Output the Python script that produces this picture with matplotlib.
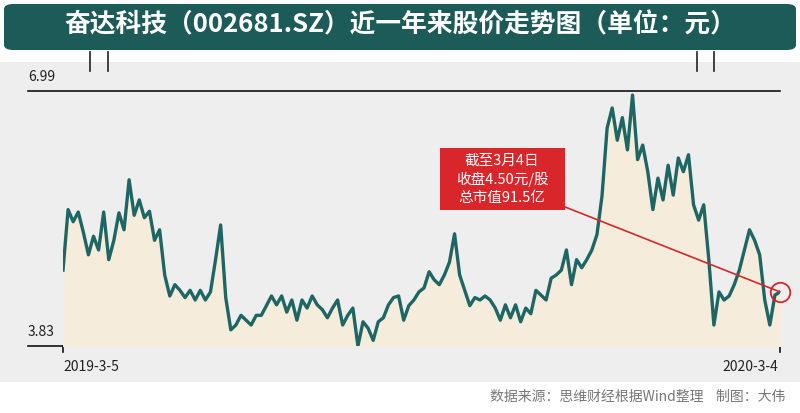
import matplotlib
matplotlib.use("Agg")
import matplotlib.pyplot as plt
from matplotlib.patches import FancyBboxPatch, Rectangle
import numpy as np

plt.rcParams['font.family'] = ['Noto Sans CJK SC', 'DejaVu Sans']

prices = [4.77,5.52,5.37,5.49,5.24,4.96,5.19,5.02,5.49,4.90,5.14,5.48,5.27,5.89,5.45,5.64,5.42,5.50,5.14,5.27,
          4.71,4.45,4.59,4.52,4.43,4.52,4.40,4.52,4.40,4.50,4.90,5.33,4.43,4.03,4.09,4.21,4.15,4.09,4.21,4.21,
          4.33,4.45,4.34,4.45,4.25,4.40,4.15,4.40,4.30,4.45,4.34,4.28,4.18,4.30,4.40,4.09,4.21,4.30,3.83,4.13,
          4.05,3.90,4.13,4.18,4.34,4.43,4.45,4.15,4.33,4.40,4.50,4.55,4.75,4.65,4.59,4.71,4.87,5.22,4.71,4.52,
          4.33,4.43,4.40,4.45,4.40,4.30,4.15,4.34,4.18,4.34,4.13,4.30,4.23,4.52,4.46,4.40,4.67,4.71,4.77,5.02,
          4.59,4.90,4.80,4.90,5.02,5.21,5.69,6.53,6.78,6.38,6.66,6.26,6.94,6.14,6.32,5.99,5.52,5.91,5.64,6.07,
          5.70,6.16,5.99,6.20,5.58,5.39,5.58,4.90,4.09,4.50,4.40,4.45,4.59,4.77,5.02,5.27,5.14,4.96,4.40,4.09,
          4.46,4.50]
y_ticks = [3.83, 6.99]
start_label, end_label = "2019-3-5", "2020-3-4"
title = "奋达科技（002681.SZ）近一年来股价走势图（单位：元）"
note = "截至3月4日\n收盘4.50元/股\n总市值91.5亿"
source = "数据来源：思维财经根据Wind整理    制图：大伟"

W, H = 800, 413
fig = plt.figure(figsize=(8, 4.13), dpi=100)
fig.patch.set_facecolor('white')

def fx(x): return x / W
def fy(y): return 1 - y / H

fig.patches.append(Rectangle((0, fy(382)), 1, fy(62) - fy(382), transform=fig.transFigure,
                             facecolor='#eeeeee', edgecolor='none', zorder=-5))
fig.patches.append(FancyBboxPatch((fx(4), fy(50)), fx(792), fy(4) - fy(50), transform=fig.transFigure,
                                  boxstyle="round,pad=0,rounding_size=0.012", facecolor='#1d5b58',
                                  edgecolor='none', zorder=1))
fig.text(0.5, fy(25), title, color='white', fontsize=18.5, fontweight='bold', ha='center', va='center')

for xp in [90, 108, 697, 714]:
    fig.add_artist(plt.Line2D([fx(xp), fx(xp)], [fy(52), fy(71)], transform=fig.transFigure,
                              color='#222222', lw=1.2))

ax = fig.add_axes([fx(63), fy(346), fx(780) - fx(63), fy(91) - fy(346)])
ax.set_zorder(2)
ax.set_facecolor('none')
x = np.arange(len(prices))
ax.fill_between(x, prices, 3.83, color='#f6ecdb', zorder=1)
ax.plot(x, prices, color='#1e6663', lw=2.4, zorder=3)
ax.set_xlim(0, len(prices) - 1)
ax.set_ylim(3.83, 6.99)
for s in ax.spines.values():
    s.set_visible(False)
ax.set_xticks([]); ax.set_yticks([])

fig.add_artist(plt.Line2D([fx(28), fx(780)], [fy(91), fy(91)], transform=fig.transFigure, color='#111111', lw=1.2))
fig.add_artist(plt.Line2D([fx(28), fx(780)], [fy(346), fy(346)], transform=fig.transFigure, color='#111111', lw=1.2))
fig.add_artist(plt.Line2D([fx(63), fx(63)], [fy(346), fy(352)], transform=fig.transFigure, color='#111111', lw=1.2))
fig.add_artist(plt.Line2D([fx(780), fx(780)], [fy(346), fy(352)], transform=fig.transFigure, color='#111111', lw=1.2))
fig.text(fx(28), fy(84), f"{y_ticks[1]:.2f}", fontsize=10, color='#222222', va='bottom', ha='left')
fig.text(fx(28), fy(339), f"{y_ticks[0]:.2f}", fontsize=10, color='#222222', va='bottom', ha='left')
fig.text(fx(63), fy(367), start_label, fontsize=10, color='#222222', va='center', ha='left')
fig.text(fx(778), fy(367), end_label, fontsize=10, color='#222222', va='center', ha='right')

last = len(prices) - 1
ax.plot([last], [prices[-1]], marker='o', ms=14, mfc='none', mec='#d9262a', mew=1.3, zorder=5, clip_on=False)
ax.annotate('', xy=(last, prices[-1]), xytext=(fx(560), fy(205)), textcoords='figure fraction',
            arrowprops=dict(arrowstyle='-', color='#d9262a', lw=1.2, shrinkA=0, shrinkB=0), zorder=4)
fig.patches.append(Rectangle((fx(440), fy(210)), fx(125), fy(148) - fy(210), transform=fig.transFigure,
                             facecolor='#d9262a', edgecolor='none', zorder=6))
fig.text(fx(502), fy(179), note, color='white', fontsize=10.5, ha='center', va='center',
         linespacing=1.35, zorder=7)

fig.text(fx(785), fy(397), source, fontsize=10, color='#777777', ha='right', va='center')

fig.savefig('out.png', dpi=100)
